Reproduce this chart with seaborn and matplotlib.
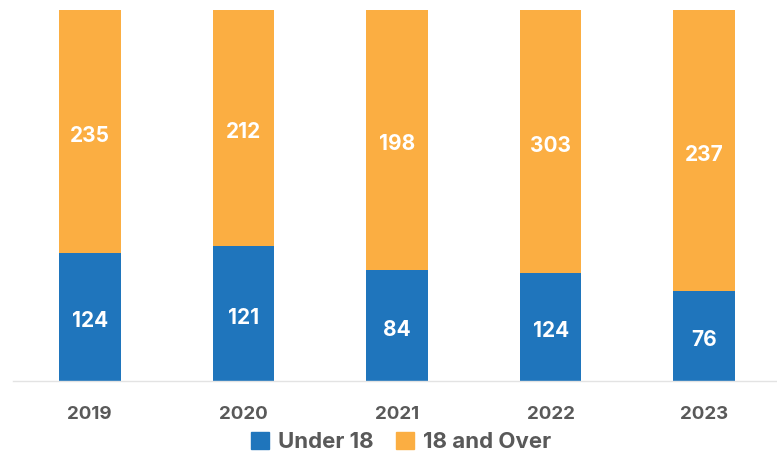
import pandas as pd
import matplotlib
matplotlib.use("Agg")
import matplotlib.pyplot as plt
import seaborn as sns
from matplotlib.patches import Patch

years = ["2019", "2020", "2021", "2022", "2023"]
under_18 = [124, 121, 84, 124, 76]
over_18 = [235, 212, 198, 303, 237]

BLUE = "#1F75BC"
ORANGE = "#FBAE42"
GREY = "#595959"


def main():
    sns.set_style("white")
    plt.rcParams["font.family"] = ["Inter", "DejaVu Sans"]

    df = pd.DataFrame({"year": years, "under": under_18, "over": over_18})
    df["total"] = df["under"] + df["over"]
    df["under_share"] = df["under"] / df["total"]
    df["full"] = 1.0

    fig = plt.figure(figsize=(7.77, 4.55), dpi=100)
    ax = fig.add_axes([13 / 777, 74 / 455, 768 / 777, 371 / 455])

    # stacked look: full-height orange, blue share drawn over it
    sns.barplot(data=df, x="year", y="full", color=ORANGE, width=0.4,
                saturation=1, linewidth=0, ax=ax)
    sns.barplot(data=df, x="year", y="under_share", color=BLUE, width=0.4,
                saturation=1, linewidth=0, ax=ax)

    nudge = 0.011  # labels sit a touch below segment centres
    for i, row in df.iterrows():
        ax.text(i, row["under_share"] / 2 - nudge, str(row["under"]),
                ha="center", va="center", color="white", fontsize=15,
                fontweight="bold")
        ax.text(i, row["under_share"] + (1 - row["under_share"]) / 2 - nudge,
                str(row["over"]), ha="center", va="center", color="white",
                fontsize=15, fontweight="bold")

    ax.set_xlim(-0.5, 4.5)
    ax.set_ylim(0, 1)
    ax.set_xlabel("")
    ax.set_ylabel("")
    ax.set_yticks([])
    ax.tick_params(axis="x", length=0, pad=18, labelsize=13.5, labelcolor=GREY)
    for lbl in ax.get_xticklabels():
        lbl.set_fontweight("bold")
    sns.despine(ax=ax, left=True)
    ax.spines["bottom"].set_color("#E3E3E3")
    ax.spines["bottom"].set_linewidth(1)

    handles = [Patch(color=BLUE, label="Under 18"),
               Patch(color=ORANGE, label="18 and Over")]
    leg = fig.legend(handles=handles, loc="center",
                     bbox_to_anchor=(401 / 777, 13 / 455),
                     ncol=2, frameon=False, handlelength=0.8, handleheight=0.8,
                     handletextpad=0.4, columnspacing=1.0,
                     prop={"size": 16, "weight": "bold"})
    for t in leg.get_texts():
        t.set_color(GREY)

    fig.savefig("out.png", dpi=100)
    plt.close(fig)


if __name__ == "__main__":
    main()
